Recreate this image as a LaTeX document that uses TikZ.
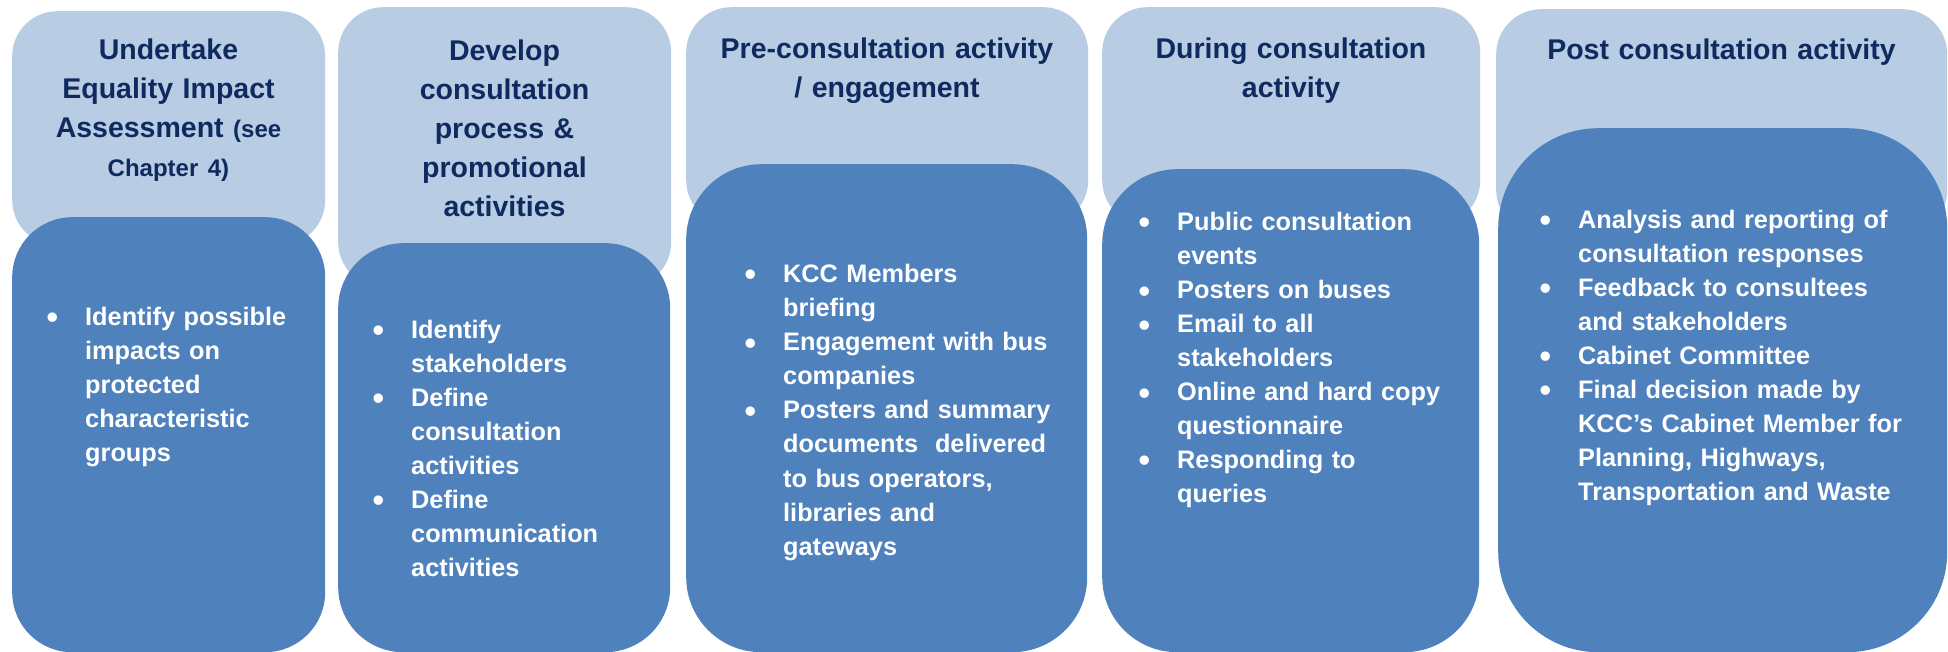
\documentclass[tikz,border=0pt]{standalone}
\usepackage{fontspec}
\setmainfont{Liberation Sans}
\definecolor{headfill}{HTML}{B8CCE4}
\definecolor{bodyfill}{HTML}{4F81BD}
\definecolor{headtext}{HTML}{0F2A5E}
% bullet hung to the left of the item text
\newcommand\bul{\leavevmode\llap{\raisebox{-3pt}{\scalebox{1.3}{\textbullet}}\hspace{27pt}}}
\begin{document}
\begin{tikzpicture}[x=1pt,y=-1pt,
  headbox/.style={fill=headfill, draw=none, rounded corners=45pt, anchor=north west, inner sep=0pt},
  bodybox/.style={fill=bodyfill, draw=none, anchor=north west, inner sep=0pt},
  headtitle/.style={anchor=base, inner sep=0pt, text width=#1, align=center, text=headtext,
    font=\fontsize{28.5}{39}\selectfont\bfseries},
  bodylist/.style={anchor=base west, inner sep=0pt, text width=#1, align=left, text=white,
    font=\fontsize{25.3}{34}\selectfont\bfseries},
]
\useasboundingbox (0,0) rectangle (1948,652);

% stage header panels
\node[headbox, minimum width=313pt, minimum height=234pt] (h1) at (12,11) {};
\node[headbox, minimum width=333pt, minimum height=280pt] (h2) at (338,7) {};
\node[headbox, minimum width=402pt, minimum height=218pt] (h3) at (686,7) {};
\node[headbox, minimum width=378pt, minimum height=218pt] (h4) at (1102,7) {};
\node[headbox, minimum width=451pt, minimum height=226pt] (h5) at (1496,9) {};

% activity panels
\node[bodybox, rounded corners=60pt, minimum width=313pt, minimum height=435pt] (p1) at (12,217) {};
\node[bodybox, rounded corners=65pt, minimum width=332pt, minimum height=409pt] (p2) at (338,243) {};
\node[bodybox, rounded corners=75pt, minimum width=401pt, minimum height=488pt] (p3) at (686,164) {};
\node[bodybox, rounded corners=75pt, minimum width=377pt, minimum height=483pt] (p4) at (1102,169) {};
\node[bodybox, rounded corners=100pt, minimum width=449pt, minimum height=524pt] (p5) at (1498,128) {};

% stage titles
\node[headtitle=300pt] (t1) at (168.5,60) {Undertake\\Equality Impact\\Assessment {\fontsize{24}{36}\selectfont(see}\\\fontsize{24}{35}\selectfont Chapter 4)};
\node[headtitle=320pt] (t2) at (504.5,61) {Develop\\consultation\\process \&\\promotional\\activities};
\node[headtitle=390pt] (t3) at (887,59) {Pre-consultation activity\\/ engagement};
\node[headtitle=370pt] (t4) at (1291,59) {During consultation\\activity};
\node[headtitle=440pt] (t5) at (1721.5,60) {Post consultation activity};

% activity lists
\node[bodylist=235pt] (l1) at (85,325) {\bul Identify possible\\impacts on\\protected\\characteristic\\groups};
\node[bodylist=250pt] (l2) at (411,338) {\bul Identify\\stakeholders\\\bul Define\\consultation\\activities\\\bul Define\\communication\\activities};
\node[bodylist=295pt] (l3) at (783,283) {\bul KCC Members\\briefing\\\bul Engagement with bus\\companies\\\bul Posters and summary\\documents\ \ delivered\\to bus operators,\\libraries and\\gateways};
\node[bodylist=295pt] (l4) at (1177,231) {\bul Public consultation\\events\\\bul Posters on buses\\\bul Email to all\\stakeholders\\\bul Online and hard copy\\questionnaire\\\bul Responding to\\queries};
\node[bodylist=360pt] (l5) at (1578,229) {\bul Analysis and reporting of\\consultation responses\\\bul Feedback to consultees\\and stakeholders\\\bul Cabinet Committee\\\bul Final decision made by\\KCC’s Cabinet Member for\\Planning, Highways,\\Transportation and Waste};
\end{tikzpicture}
\end{document}
